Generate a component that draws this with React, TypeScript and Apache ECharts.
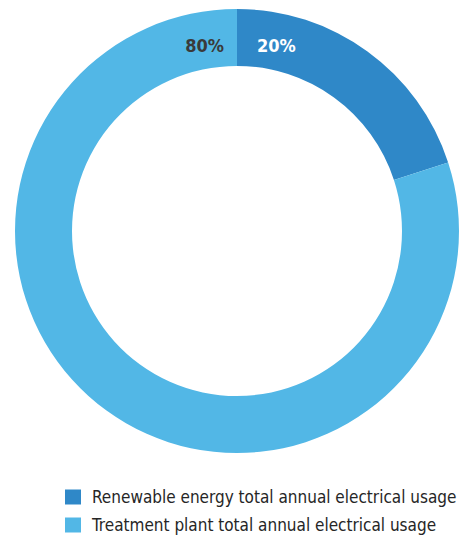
import React, { useEffect, useRef } from "react";
import * as echarts from "echarts";

const categories = [
  "Renewable energy total annual electrical usage",
  "Treatment plant total annual electrical usage",
];
const shares = [20, 80];
const colors = ["#2f88c8", "#52b7e6"];
const labelColors = ["#ffffff", "#3a3a3a"];

const FONT = "'DejaVu Sans Condensed', 'Roboto', sans-serif";

export default function App() {
  const ref = useRef<HTMLDivElement>(null);

  useEffect(() => {
    document.body.style.margin = "0";
    if (!ref.current) return;
    const chart = echarts.init(ref.current, null, { renderer: "svg" });
    const cx = 237;
    chart.setOption({
      animation: false,
      backgroundColor: "#ffffff",
      legend: {
        orient: "vertical",
        left: 65,
        top: 487,
        padding: 0,
        itemWidth: 16,
        itemHeight: 15,
        itemGap: 8,
        icon: "rect",
        selectedMode: false,
        textStyle: {
          fontFamily: FONT,
          fontSize: 17,
          lineHeight: 20,
          color: "#262626",
          padding: [0, 0, 0, 6],
        },
        data: categories,
      },
      series: [
        {
          type: "pie",
          center: [cx, 231],
          radius: [165, 222],
          startAngle: 90,
          clockwise: true,
          silent: true,
          labelLine: { show: false },
          label: {
            show: true,
            formatter: "{d}%",
            fontFamily: FONT,
            fontWeight: "bold",
            fontSize: 18,
          },
          labelLayout: (params: any) => {
            const renewable = params.dataIndex === 0;
            return {
              x: renewable ? cx + 20 : cx - 13,
              y: 45,
              align: renewable ? "left" : "right",
              verticalAlign: "middle",
            };
          },
          data: categories.map((name, i) => ({
            name,
            value: shares[i],
            itemStyle: { color: colors[i] },
            label: { color: labelColors[i] },
          })),
        },
      ],
    });
    return () => chart.dispose();
  }, []);

  return <div ref={ref} style={{ width: 464, height: 543 }} />;
}
